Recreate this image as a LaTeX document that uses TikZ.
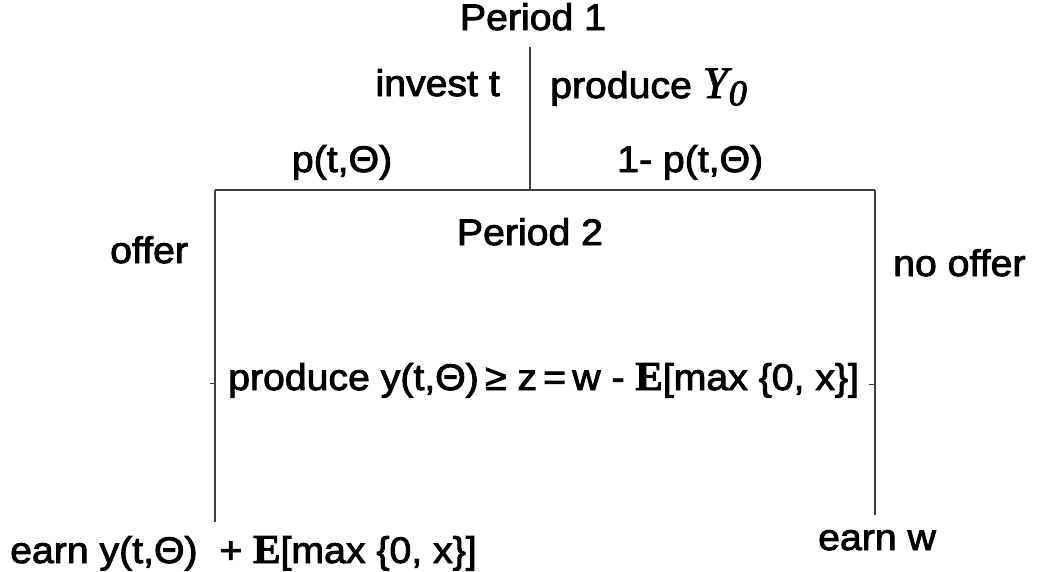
\documentclass[tikz,border=0pt]{standalone}
\usepackage{fontspec}
\setmainfont{Liberation Sans}[FakeStretch=1.06]
\newfontfamily\serifT{Liberation Serif}
\newcommand{\Ebb}{{\serifT\bfseries\fontsize{41}{44}\selectfont E}}
\newcommand{\Yz}{{\serifT\itshape\fontsize{45}{50}\selectfont Y\kern1pt\raisebox{-0.35ex}{\fontsize{36}{40}\selectfont 0}}}
\newcommand{\heavy}[1]{\special{pdf:literal direct 2 Tr 0.9 w}#1\special{pdf:literal direct 0 Tr}}
\begin{document}
\begin{tikzpicture}[x=1pt,y=-1pt,
  lbl/.style={inner sep=0pt,font=\fontsize{37}{44}\selectfont},
  ln/.style={line width=1.3pt,draw=black!75}]
\useasboundingbox (0,0) rectangle (1043,571);
% tree coordinates
\coordinate (top) at (530,47);
\coordinate (fork) at (530,190);
\coordinate (L) at (215,190);
\coordinate (R) at (875,190);
\coordinate (Lend) at (215,522);
\coordinate (Rend) at (875,515);
\draw[ln] (top) -- (fork);
\draw[ln] (L) -- (R);
\draw[ln] (L) -- (Lend);
\draw[ln] (R) -- (Rend);
% labels
\node[lbl,anchor=base] (p1) at (533,30) {\heavy{Period 1}};
\node[lbl,anchor=base east] (inv) at (500,96) {\heavy{invest t}};
\node[lbl,anchor=base west] (prod) at (550,98) {\heavy{produce \Yz}};
\node[lbl,anchor=base] (pt) at (342,172) {\heavy{p(t,Θ)}};
\node[lbl,anchor=base west] (omp) at (617,172) {\heavy{1- p(t,Θ)}};
\node[lbl,anchor=base] (p2) at (530,245) {\heavy{Period 2}};
\node[lbl,anchor=base west] (off) at (110,263) {\heavy{offer}};
\node[lbl,anchor=base west] (noff) at (893,276) {\heavy{no offer}};
\node[lbl,anchor=base west] (mid) at (228,390) {\heavy{produce y(t,Θ)\,≥ z\,=\,w - \Ebb[max \{0, x\}]}};
\coordinate (tl) at (210,383);
\coordinate (tr) at (869,384);
\draw[ln,line width=1pt] (tl) -- (L |- tl);
\draw[ln,line width=1pt] (tr) -- (R |- tr);
\node[lbl,anchor=base west] (earn1) at (10,563) {\heavy{earn y(t,Θ)\ \ + \Ebb[max \{0, x\}]}};
\node[lbl,anchor=base west] (earn2) at (818,550) {\heavy{earn w}};
\end{tikzpicture}
\end{document}
